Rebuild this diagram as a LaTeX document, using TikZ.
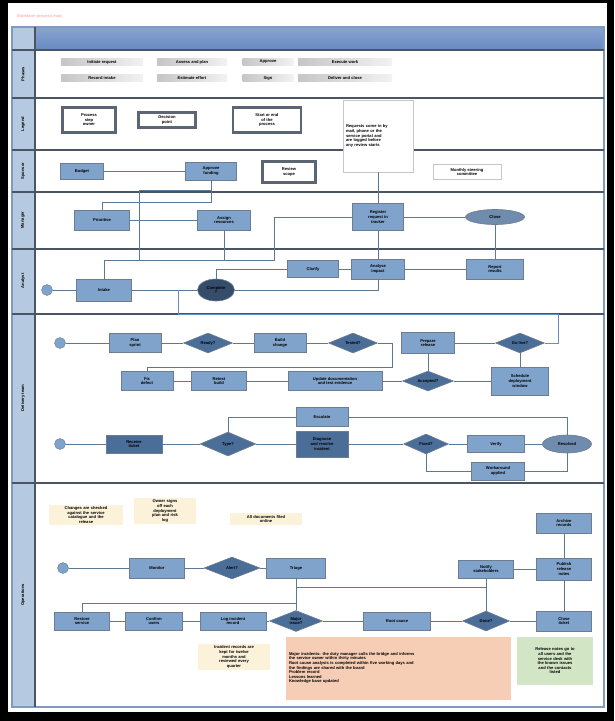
\documentclass[tikz,border=0pt]{standalone}
\usepackage{fontspec}
\setmainfont{Liberation Sans}
\usetikzlibrary{positioning,shapes.geometric}
\definecolor{laneline}{HTML}{4A5563}
\definecolor{flowline}{HTML}{5C7892}
\definecolor{taskfill}{HTML}{7FA3CB}
\definecolor{taskline}{HTML}{6D7D8F}
\definecolor{gatefill}{HTML}{4B6E99}
\definecolor{headblue}{HTML}{6A8CC4}
\definecolor{colblue}{HTML}{B5CAE0}
\definecolor{framecol}{HTML}{7F9BBD}
\definecolor{notecream}{HTML}{FCF2D9}
\definecolor{notesalmon}{HTML}{F6CDB5}
\definecolor{notegreen}{HTML}{D2E6C6}
\tikzset{
swim/.style={
    x=1pt,
    y=-1pt,
    font=\fontsize{4.1}{4.6}\selectfont\bfseries
},
task/.style={
    rectangle,
    draw=taskline,
    fill=taskfill,
    line width=0.9pt,
    minimum width=52pt,
    minimum height=19pt,
    inner sep=0.3pt,
    align=center
},
gate/.style={
    diamond,
    draw=taskline,
    fill=gatefill,
    line width=0.6pt,
    minimum width=49pt,
    minimum height=20pt,
    inner sep=0pt,
    aspect=2.5,
    align=center
},
oval/.style={
    ellipse,
    draw=taskline,
    fill=gatefill!80,
    line width=0.6pt,
    inner sep=0pt,
    align=center
},
begin/.style={
    circle,
    draw=taskline,
    fill=taskfill,
    minimum size=11pt,
    inner sep=0pt
},
keybox/.style={
    rectangle,
    draw=laneline!90,
    fill=white,
    line width=2.4pt,
    inner sep=0.5pt,
    align=center
},
memo/.style={
    rectangle,
    draw=gray!45,
    fill=white,
    line width=0.5pt,
    inner sep=1.5pt,
    align=left
},
phase/.style={
    rectangle,
    left color=gray!45,
    right color=gray!10,
    minimum height=7pt,
    inner sep=0pt
},
remark/.style={
    rectangle,
    fill=notecream,
    inner sep=2pt,
    align=center
},
lanename/.style={
    rotate=90,
    align=center
},
flow/.style={
    draw=flowline,
    line width=0.9pt
},
lanesep/.style={
    draw=laneline,
    line width=1.3pt
}}

\begin{document}
\begin{tikzpicture}[swim]
\useasboundingbox (0,0) rectangle (614,721);
\fill[black] (0,0) rectangle (614,721);
\fill[white] (8,3) rectangle (607,712);
\node[anchor=west, text=red!30] (title) at (13,16) {Swimlane process map};

% frame, header and lane column
\fill[colblue] (12,27) rectangle (35,707);
\shade[top color=headblue!80, bottom color=headblue] (35,27) rectangle (604,48);
\draw[draw=framecol, line width=1.5pt] (12,27) rectangle (604,707);
\draw[lanesep] (35,27) -- (35,707);
\foreach \y in {50,98,150,192,249,314,483}
    \draw[lanesep] (12,\y) -- (604,\y);

% lane names
\node[lanename] (lane1) at (23,74)  {Phases};
\node[lanename] (lane2) at (23,124) {Legend};
\node[lanename] (lane3) at (23,171) {Sponsor};
\node[lanename] (lane4) at (23,220) {Manager};
\node[lanename] (lane5) at (23,281) {Analyst};
\node[lanename] (lane6) at (23,398) {Delivery team};
\node[lanename] (lane7) at (23,595) {Operations};

% phases
\node[phase, minimum width=82pt] (ph1) at (102,62) {Initiate request};
\node[phase, minimum width=70pt] (ph2) at (192,62) {Assess and plan};
\node[phase, minimum width=51pt] (ph3) at (268,62) {Approve};
\node[phase, minimum width=94pt] (ph4) at (345,62) {Execute work};
\node[phase, minimum width=82pt] (ph5) at (102,78) {Record intake};
\node[phase, minimum width=70pt] (ph6) at (192,78) {Estimate effort};
\node[phase, minimum width=51pt] (ph7) at (268,78) {Sign};
\node[phase, minimum width=94pt] (ph8) at (345,78) {Deliver and close};

% legend
\node[keybox, minimum width=53pt, minimum height=25pt] (lg1) at (89,120)  {Process\\step\\owner};
\node[keybox, minimum width=57pt, minimum height=15pt] (lg2) at (167,120) {Decision\\point};
\node[keybox, minimum width=68pt, minimum height=25pt] (lg3) at (267,120) {Start or end\\of the\\process};
\node[memo, minimum width=70pt, minimum height=72pt, text width=64pt] (memo1) at (378,136)
    {Requests come in by\\mail, phone or the\\service portal and\\are logged before\\any review starts\\[22pt]};

% sponsor
\node[task, minimum width=43pt, minimum height=16pt] (a) at (82,171) {Budget};
\node[task, minimum width=51pt, minimum height=18pt] (b) at (211,171) {Approve\\funding};
\node[keybox, minimum width=53pt, minimum height=21pt] (c) at (289,172) {Review\\scope};
\node[memo, minimum width=68pt, minimum height=15pt, align=center] (memo2) at (467,172) {Monthly steering\\committee};

% manager
\node[task, minimum width=55pt, minimum height=20pt] (d) at (102,220) {Prioritise};
\node[task, minimum width=53pt, minimum height=20pt] (e) at (224,220) {Assign\\resources};
\node[task, minimum width=51pt, minimum height=27pt] (f) at (378,217) {Register\\request in\\tracker};
\node[oval, minimum width=59pt, minimum height=15pt] (g) at (495,217) {Close};

% analyst
\node[begin] (start1) at (47,290) {};
\node[task, minimum width=55pt, minimum height=22pt] (h) at (104,290) {Intake};
\node[oval, fill=gatefill!70!black, minimum width=37pt, minimum height=22pt] (i) at (216,290) {Complete\\?};
\node[task, minimum width=51pt, minimum height=17pt] (j) at (313,269) {Clarify};
\node[task, minimum width=53pt, minimum height=20pt] (k) at (378,269) {Analyse\\impact};
\node[task, minimum width=57pt, minimum height=20pt] (l) at (495,269) {Report\\results};

% delivery team
\node[begin] (start2) at (60,343) {};
\node[task] (m) at (135,343) {Plan\\sprint};
\node[gate] (n) at (208,343) {Ready?};
\node[task] (o) at (280,343) {Build\\change};
\node[gate] (p) at (353,343) {Tested?};
\node[task, minimum width=53pt, minimum height=21pt] (q) at (428,343) {Prepare\\release};
\node[gate] (r) at (520,343) {Go live?};
\node[task] (s) at (147,381) {Fix\\defect};
\node[task, minimum width=55pt] (t) at (219,381) {Retest\\build};
\node[task, minimum width=94pt] (u) at (335,381) {Update documentation\\and test evidence};
\node[gate, minimum width=51pt] (v) at (428,381) {Accepted?};
\node[task, minimum width=57pt, minimum height=28pt] (w) at (520,381) {Schedule\\deployment\\window};
\node[begin] (start3) at (60,444) {};
\node[task, minimum width=56pt, minimum height=18pt, fill=gatefill] (x1) at (134,444) {Receive\\ticket};
\node[gate, minimum width=56pt, minimum height=24pt] (y1) at (228,444) {Type?};
\node[task, minimum height=19pt] (z1) at (322,417) {Escalate};
\node[task, minimum height=26pt, fill=gatefill] (z2) at (322,444) {Diagnose\\and resolve\\incident};
\node[gate, minimum width=45pt] (aa) at (426,444) {Fixed?};
\node[task, minimum width=57pt, minimum height=17pt] (bb) at (496,444) {Verify};
\node[oval, minimum width=49pt, minimum height=18pt] (cc) at (567,444) {Resolved};
\node[task, minimum width=53pt, minimum height=18pt] (dd) at (498,471) {Workaround\\applied};

% operations
\node[remark, text width=70pt] (yn1) at (86,515) {Changes are checked\\against the service\\catalogue and the\\release};
\node[remark, text width=58pt] (yn2) at (165,511) {Owner signs\\off each\\deployment\\plan and risk\\log};
\node[remark, text width=68pt] (yn3) at (266,519) {All documents filed\\online};
\node[begin] (start4) at (63,568) {};
\node[task, minimum width=55pt, minimum height=20pt] (D1) at (157,568) {Monitor};
\node[gate, minimum width=56pt, minimum height=22pt] (D2) at (232,568) {Alert?};
\node[task, minimum width=59pt, minimum height=20pt] (D3) at (296,568) {Triage};
\node[task, minimum width=55pt, minimum height=18pt] (D4) at (486,569) {Notify\\stakeholders};
\node[task, minimum width=55pt, minimum height=22pt] (D5) at (564,569) {Publish\\release\\notes};
\node[task, minimum width=55pt, minimum height=20pt] (D6) at (564,523) {Archive\\records};
\node[task, minimum width=55pt, minimum height=18pt] (E1) at (82,621) {Restore\\service};
\node[task, minimum width=57pt, minimum height=18pt] (E2) at (154,621) {Confirm\\users};
\node[task, minimum width=66pt, minimum height=18pt] (E3) at (233,621) {Log incident\\record};
\node[gate, minimum width=53pt, minimum height=21pt] (E4) at (296,621) {Major\\issue?};
\node[task, minimum width=67pt, minimum height=18pt] (E5) at (397,621) {Root cause};
\node[gate, minimum width=47pt] (E6) at (486,621) {Done?};
\node[task, minimum width=55pt, minimum height=20pt] (E7) at (564,621) {Close\\ticket};
\node[remark, text width=68pt] (yn4) at (234,657) {Incident records are\\kept for twelve\\months and\\reviewed every\\quarter};
\node[remark, fill=notesalmon, minimum width=225pt, minimum height=63pt, text width=218pt, align=left] (salmon) at (398,668)
    {Major incidents: the duty manager calls the bridge and informs\\the service owner within thirty minutes\\Root cause analysis is completed within five working days and\\the findings are shared with the board\\Problem record\\Lessons learned\\Knowledge base updated};
\node[remark, fill=notegreen, minimum width=76pt, minimum height=48pt, text width=70pt] (green) at (555,661)
    {Release notes go to\\all users and the\\service desk with\\the known issues\\and the contacts\\listed};

% connectors: sponsor, manager, analyst
\coordinate (bsplit) at (139,190);
\coordinate (hfbend) at (274,260);
\draw[flow] (a) -- (b);
\draw[flow] (b.south) -- ++(0,22) -| (d.north);
\draw[flow] (b.south) |- (bsplit) -- (bsplit |- hfbend);
\draw[flow] (h.north) |- (hfbend) |- (f.west);
\draw[flow] (d) -- (e);
\draw[flow] (e.south) -- (e.south |- hfbend);
\draw[flow] (memo1.south) -- (f.north);
\draw[flow] (f) -- (g);
\draw[flow] (g) -- (l);
\draw[flow] (f) -- (k);
\draw[flow] (i.north) |- (j.west);
\draw[flow] (j) -- (k);
\draw[flow] (k) -- (l);
\draw[flow] (start1) -- (h);
\draw[flow] (h) -- (i);
\draw[flow] (i.east) -| (k.south);

% connectors: delivery team
\coordinate (backtop) at (558,314);
\coordinate (backleft) at (178,314);
\coordinate (pturn) at (392,367);
\draw[flow, draw=headblue] (r.east) -| (backtop) -- (backleft) -- (backleft |- i.east);
\draw[flow] (start2) -- (m) -- (n) -- (o) -- (p);
\draw[flow] (p.east) -| (pturn) -| (s.north);
\draw[flow] (q) -- (r);
\draw[flow] (q) -- (v);
\draw[flow] (r) -- (w);
\draw[flow] (s) -- (t) -- (u) -- (v) -- (w);
\draw[flow] (start3) -- (x1) -- (y1) -- (z2) -- (aa) -- (bb) -- (cc);
\draw[flow] (y1.north) |- (z1.west);
\draw[flow] (z1.east) -| (cc.north);
\draw[flow] (aa.south) |- (dd.west);
\draw[flow] (dd.east) -| (cc.south);

% connectors: operations
\coordinate (dsplit) at (486,587);
\coordinate (ebend) at (296,603);
\draw[flow] (start4) -- (D1) -- (D2) -- (D3);
\draw[flow] (D3.south) |- (dsplit);
\draw[flow] (D3) -- (E4);
\draw[flow] (ebend) -| (E1.north);
\draw[flow] (D4) -- (D5);
\draw[flow] (D6) -- (D5);
\draw[flow] (D5) -- (E7);
\draw[flow] (D4) -- (E6);
\draw[flow] (E1) -- (E2) -- (E3) -- (E4) -- (E5) -- (E6) -- (E7);
\end{tikzpicture}
\end{document}
